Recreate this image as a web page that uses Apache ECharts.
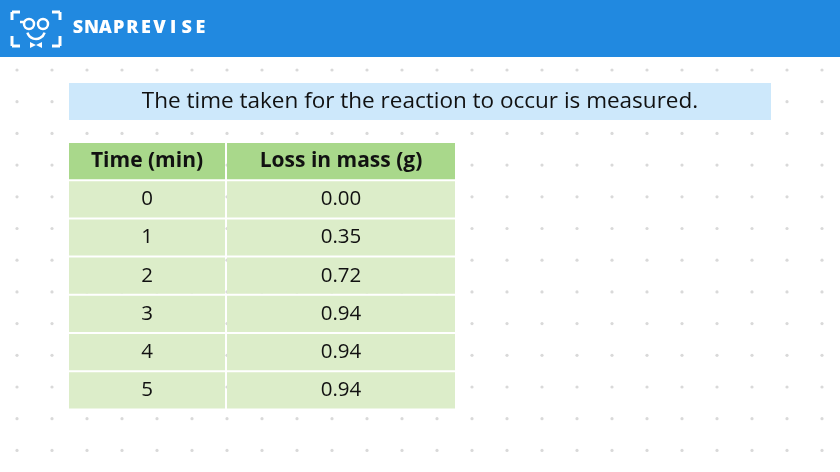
<!DOCTYPE html>
<html><head><meta charset="utf-8">
<script src="https://cdn.jsdelivr.net/npm/echarts@6/dist/echarts.min.js"></script>
<style>html,body{margin:0;padding:0;background:#fff}#c{width:840px;height:472px}</style>
</head><body><div id="c"></div>
<script>
const headers = ["Time (min)", "Loss in mass (g)"];
const times = ["0", "1", "2", "3", "4", "5"];
const losses = ["0.00", "0.35", "0.72", "0.94", "0.94", "0.94"];
const title = "The time taken for the reaction to occur is measured.";
const brand = "SNAPREVISE";

(function(){
const chart = echarts.init(document.getElementById('c'));
const F = '"Open Sans", "Noto Sans", sans-serif';
const g = [];
for (let r = 0; r < 13; r++) for (let c = 0; c < 24; c++) {
  g.push({type:'circle', shape:{cx:17+c*35, cy:70+r*31.7, r:1.6}, style:{fill:'#d9d9d9'}, z:0});
}
g.push({type:'rect', shape:{x:0,y:0,width:840,height:57}, style:{fill:'#2189e0'}, z:1});
const W = '#ffffff';
[[12,12,12,20],[12,12,20,12],[52,12,60,12],[60,12,60,20],[12,36,12,46],[12,46,20,46],[52,46,60,46],[60,36,60,46]]
 .forEach(s=>g.push({type:'line',shape:{x1:s[0],y1:s[1],x2:s[2],y2:s[3]},style:{stroke:W,lineWidth:3},z:2}));
g.push({type:'circle',shape:{cx:29,cy:24,r:5},style:{fill:'none',stroke:W,lineWidth:2.5},z:2});
g.push({type:'circle',shape:{cx:43,cy:24,r:5},style:{fill:'none',stroke:W,lineWidth:2.5},z:2});
g.push({type:'line',shape:{x1:20,y1:22,x2:24,y2:22},style:{stroke:W,lineWidth:2.5},z:2});
g.push({type:'arc',shape:{cx:36,cy:30,r:9,startAngle:0.3,endAngle:Math.PI-0.3},style:{stroke:W,lineWidth:2.5,fill:'none'},z:2});
g.push({type:'polygon',shape:{points:[[30,42],[36,45],[42,42],[42,48],[36,45],[30,48]]},style:{fill:W},z:2});
brand.split('').forEach((ch,i)=>g.push({type:'text',style:{x:78+i*13.6,y:28,text:ch,fill:W,font:'800 18px '+F,textAlign:'center',textVerticalAlign:'middle'},z:2}));
g.push({type:'rect',shape:{x:69,y:83,width:702,height:37},style:{fill:'#cde8fb'},z:1});
g.push({type:'text',style:{x:420,y:102,text:title,fill:'#111',font:'500 22.5px '+F,textAlign:'center',textVerticalAlign:'middle'},z:2});
const colX = [69, 227], colW = [156, 228], tableTop = 143, rh = 38.2;
headers.forEach((h,i)=>{
  g.push({type:'rect',shape:{x:colX[i],y:tableTop,width:colW[i],height:rh-2},style:{fill:'#a9d88b'},z:1});
  g.push({type:'text',style:{x:colX[i]+colW[i]/2,y:tableTop+rh/2-1,text:h,fill:'#111',font:'bold 21px '+F,textAlign:'center',textVerticalAlign:'middle'},z:2});
});
times.forEach((t,r)=>{
  [t, losses[r]].forEach((v,i)=>{
    const y = tableTop + rh*(r+1);
    g.push({type:'rect',shape:{x:colX[i],y:y,width:colW[i],height:rh-2},style:{fill:'#dcedc9'},z:1});
    g.push({type:'text',style:{x:colX[i]+colW[i]/2,y:y+rh/2-1,text:v,fill:'#111',font:'500 20.5px '+F,textAlign:'center',textVerticalAlign:'middle'},z:2});
  });
});
chart.setOption({animation:false, graphic:{elements:g}});
})();
</script></body></html>
